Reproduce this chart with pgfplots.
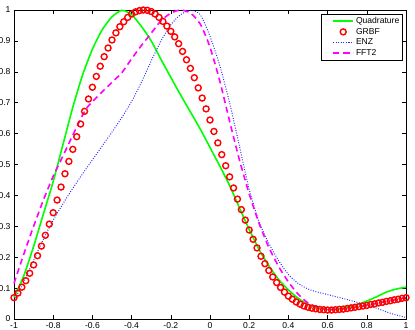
\documentclass[border=0pt]{standalone}
\usepackage{fontspec}
\setmainfont{Liberation Sans}
\usepackage{pgfplots}
\pgfplotsset{compat=1.18}

\definecolor{mgreen}{RGB}{0,255,0}
\definecolor{mred}{RGB}{255,0,0}
\definecolor{mblue}{RGB}{40,40,255}
\definecolor{mmag}{RGB}{255,0,255}

\begin{document}
\begin{tikzpicture}
\begin{axis}[
  scale only axis, width=392bp, height=309bp,
  xmin=-1, xmax=1, ymin=0, ymax=1,
  xtick={-1,-0.8,-0.6,-0.4,-0.2,0,0.2,0.4,0.6,0.8,1},
  ytick={0,0.1,0.2,0.3,0.4,0.5,0.6,0.7,0.8,0.9,1},
  tick align=inside, tick pos=both, major tick length=4bp,
  tick style={black, line width=0.5bp},
  axis line style={black, line width=0.6bp},
  tick label style={font=\fontsize{8.6}{10}\selectfont},
  /pgf/number format/assume math mode=true,
  clip=false,
  legend style={at={(rel axis cs:0.99,0.987)}, anchor=north east,
    font=\fontsize{8.6}{10}\selectfont, draw=black, line width=0.5bp,
    inner xsep=0.5bp, inner ysep=1bp, row sep=-0.8bp, cells={anchor=west}},
  legend image code/.code={\path (-11bp,0bp);\draw[mark repeat=2,mark phase=2]
    plot coordinates {(0bp,0bp) (10bp,0bp) (20bp,0bp)};},
]
% Quadrature
\addplot[mgreen, line width=1.6bp, smooth, tension=0.4] coordinates {
(-1.00,0.07)(-0.95,0.14)(-0.90,0.235)(-0.85,0.34)(-0.80,0.445)(-0.75,0.565)
(-0.70,0.685)(-0.65,0.79)(-0.60,0.873)(-0.55,0.936)(-0.50,0.978)(-0.45,0.999)
(-0.40,0.985)(-0.35,0.947)(-0.30,0.90)(-0.25,0.84)(-0.20,0.782)(-0.15,0.725)
(-0.10,0.67)(-0.05,0.615)(0.00,0.555)(0.05,0.495)(0.10,0.432)(0.15,0.36)
(0.20,0.29)(0.25,0.225)(0.30,0.172)(0.35,0.128)(0.40,0.094)(0.45,0.067)
(0.50,0.047)(0.55,0.036)(0.60,0.031)(0.65,0.032)(0.70,0.038)(0.75,0.047)
(0.80,0.058)(0.85,0.072)(0.90,0.087)(0.95,0.097)(1.00,0.103)};
\addlegendentry{Quadrature}
% GRBF
\addplot[only marks, mark=o, mark size=3bp, mred, line width=1.4bp] coordinates {
(-1.00,0.069)(-0.98,0.084)(-0.96,0.103)(-0.94,0.124)(-0.92,0.148)(-0.90,0.175)
(-0.88,0.205)(-0.86,0.236)(-0.84,0.271)(-0.82,0.307)(-0.80,0.344)(-0.78,0.385)
(-0.76,0.427)(-0.74,0.470)(-0.72,0.510)(-0.70,0.549)(-0.68,0.590)(-0.66,0.631)
(-0.64,0.672)(-0.62,0.712)(-0.60,0.750)(-0.58,0.785)(-0.56,0.818)(-0.54,0.849)
(-0.52,0.877)(-0.50,0.903)(-0.48,0.926)(-0.46,0.946)(-0.44,0.962)(-0.42,0.976)
(-0.40,0.987)(-0.38,0.994)(-0.36,0.998)(-0.34,1.000)(-0.32,0.999)(-0.30,0.995)
(-0.28,0.987)(-0.26,0.976)(-0.24,0.963)(-0.22,0.948)(-0.20,0.931)(-0.18,0.913)
(-0.16,0.891)(-0.14,0.866)(-0.12,0.839)(-0.10,0.811)(-0.08,0.781)(-0.06,0.748)
(-0.04,0.715)(-0.02,0.680)(0.00,0.644)(0.02,0.607)(0.04,0.570)(0.06,0.532)
(0.08,0.496)(0.10,0.460)(0.12,0.424)(0.14,0.388)(0.16,0.354)(0.18,0.320)
(0.20,0.288)(0.22,0.258)(0.24,0.230)(0.26,0.203)(0.28,0.179)(0.30,0.157)
(0.32,0.136)(0.34,0.118)(0.36,0.102)(0.38,0.087)(0.40,0.074)(0.42,0.064)
(0.44,0.055)(0.46,0.048)(0.48,0.042)(0.50,0.038)(0.52,0.035)(0.54,0.033)
(0.56,0.031)(0.58,0.030)(0.60,0.029)(0.62,0.029)(0.64,0.030)(0.66,0.031)
(0.68,0.032)(0.70,0.034)(0.72,0.036)(0.74,0.038)(0.76,0.040)(0.78,0.042)
(0.80,0.044)(0.82,0.047)(0.84,0.049)(0.86,0.052)(0.88,0.054)(0.90,0.057)
(0.92,0.059)(0.94,0.062)(0.96,0.064)(0.98,0.067)(1.00,0.069)};
\addlegendentry{GRBF}
% ENZ
\addplot[mblue, line width=1bp, dash pattern=on 0.9bp off 1.6bp, smooth, tension=0.4] coordinates {
(-1.00,0.06)(-0.95,0.12)(-0.90,0.19)(-0.85,0.258)(-0.80,0.32)(-0.75,0.373)
(-0.70,0.423)(-0.65,0.47)(-0.60,0.515)(-0.55,0.56)(-0.50,0.605)(-0.45,0.652)
(-0.40,0.704)(-0.35,0.766)(-0.30,0.835)(-0.25,0.9)(-0.20,0.952)(-0.15,0.985)
(-0.10,0.999)(-0.05,0.985)(0.00,0.915)(0.05,0.82)(0.10,0.70)(0.15,0.56)
(0.20,0.42)(0.25,0.315)(0.30,0.245)(0.35,0.189)(0.40,0.144)(0.45,0.115)
(0.50,0.097)(0.55,0.087)(0.60,0.079)(0.65,0.071)(0.70,0.063)(0.75,0.054)
(0.80,0.045)(0.85,0.035)(0.90,0.023)(0.95,0.013)(1.00,0.005)};
\addlegendentry{ENZ}
% FFT2
\addplot[mmag, line width=1.6bp, dash pattern=on 6bp off 4bp, smooth, tension=0.4] coordinates {
(-1.00,0.115)(-0.95,0.21)(-0.90,0.30)(-0.85,0.385)(-0.80,0.462)(-0.75,0.528)
(-0.70,0.595)(-0.65,0.66)(-0.62,0.69)(-0.55,0.735)(-0.50,0.766)(-0.45,0.797)
(-0.40,0.842)(-0.35,0.885)(-0.30,0.925)(-0.25,0.965)(-0.20,0.99)(-0.15,1.0)
(-0.10,0.99)(-0.05,0.955)(0.00,0.88)(0.05,0.77)(0.10,0.64)(0.15,0.515)
(0.20,0.405)(0.25,0.31)(0.30,0.232)(0.35,0.17)(0.40,0.12)(0.45,0.08)
(0.50,0.052)(0.55,0.038)(0.60,0.031)(0.65,0.031)(0.70,0.034)(0.75,0.039)
(0.80,0.044)(0.85,0.051)(0.90,0.057)(0.95,0.063)(1.00,0.069)};
\addlegendentry{FFT2}
\end{axis}
\pgfresetboundingbox
\useasboundingbox ([shift={(-14bp,-11bp)}]current axis.south west)
  rectangle ([shift={(9bp,10bp)}]current axis.north east);
\end{tikzpicture}
\end{document}
